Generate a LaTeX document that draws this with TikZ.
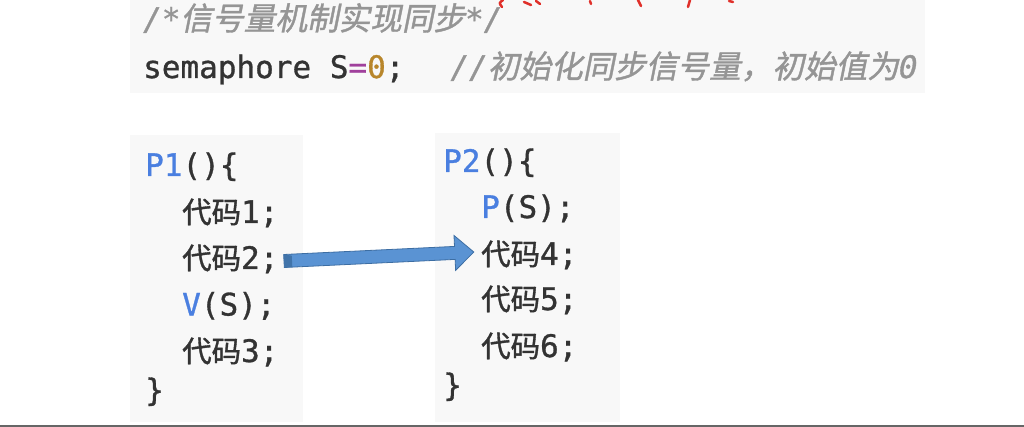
\documentclass[tikz,border=0pt]{standalone}
\usepackage{fontspec}
\newfontfamily\monof[FakeBold=1]{DejaVu Sans Mono}
\newfontfamily\cjkf[Scale=0.95,FakeBold=1.2]{Noto Sans CJK SC}
\newfontfamily\cjkitf[Scale=1.02,FakeSlant=0.2,FakeBold=1.2]{Noto Sans CJK SC}
\definecolor{boxbg}{HTML}{F8F8F8}
\definecolor{codetxt}{HTML}{333333}
\definecolor{cmtgray}{HTML}{959595}
\definecolor{kwblue}{HTML}{4A7FE0}
\definecolor{eqpurple}{HTML}{A0409C}
\definecolor{numbrown}{HTML}{B8862B}
\definecolor{arrfill}{HTML}{5A93D3}
\definecolor{arrdark}{HTML}{3D6EA3}
\definecolor{inkred}{HTML}{E0302A}
\newcommand\zh[1]{{\cjkf #1}}
\newcommand\zhi[1]{{\cjkitf #1}}
\newcommand\kw[1]{\textcolor{kwblue}{#1}}
\tikzset{
  codeline/.style={anchor=base west, inner sep=0pt, text=codetxt,
    font=\fontsize{31pt}{31pt}\selectfont\monof},
  codebox/.style={fill=boxbg, draw=none},
  redink/.style={draw=inkred, line width=2.5pt, line cap=round}
}
\begin{document}
\begin{tikzpicture}[x=1pt,y=-1pt]
\useasboundingbox (0,0) rectangle (1024,427);
\fill[white] (0,0) rectangle (1024,427);
% backgrounds
\path[codebox] (130,0) rectangle (925,93);
\path[codebox] (130,135) rectangle (303,422);
\path[codebox] (435,133) rectangle (620,422);
% bottom rule
\draw[color=black!60, line width=2.5pt] (0,425.8) -- (1024,425.8);
% cut-off red handwriting
\draw[redink] (503,0) .. controls (499,3) .. (502,7);
\draw[redink] (524,2) -- (531,5);
\draw[redink] (536,1) -- (540,4);
\draw[redink] (590,1) -- (591,4);
\draw[redink] (638,0) -- (641,6);
\draw[redink] (688,7) -- (690,0);
\draw[redink] (729,1) -- (733,2);
% top code
\node[codeline, text=cmtgray] (hdr) at (143,30) {\itshape /*\zhi{信号量机制实现同步}*/};
\node[codeline] (decl) at (143,78) {semaphore S\textcolor{eqpurple}{=}\textcolor{numbrown}{0};\hspace{46pt}\textcolor{cmtgray}{\itshape //\zhi{初始化同步信号量，初始值为}0}};
% P1
\node[codeline] (p1) at (145,176) {\kw{P1}()\{};
\node[codeline] (a1) at (182,223) {\zh{代码}1;};
\node[codeline] (a2) at (182,269) {\zh{代码}2;};
\node[codeline] (a3) at (182,315.5) {\kw{V}(S);};
\node[codeline] (a4) at (182,362) {\zh{代码}3;};
\node[codeline] (a5) at (145,401) {\}};
% P2
\node[codeline] (p2) at (443,172) {\kw{P2}()\{};
\node[codeline] (b1) at (481,218) {\kw{P}(S);};
\node[codeline] (b2) at (481,265) {\zh{代码}4;};
\node[codeline] (b3) at (481,310) {\zh{代码}5;};
\node[codeline] (b4) at (481,357) {\zh{代码}6;};
\node[codeline] (b5) at (443,396) {\}};
% block arrow from 代码2 to 代码4
\coordinate (arrS) at (284,261);
\coordinate (arrE) at (474,252);
\begin{scope}[shift={(arrS)}, rotate=2.71]
  \filldraw[fill=arrfill, draw=arrdark, line width=0.8pt, line join=miter]
    (0,-6.5) -- (171,-6.5) -- (171,-17.5) -- (190,0) -- (171,17.5) -- (171,6.5) -- (0,6.5) -- cycle;
  \fill[arrdark!85!arrfill] (0,-6.5) -- (8,-5) -- (8,6.5) -- (0,6.5) -- cycle;
\end{scope}
\end{tikzpicture}
\end{document}
